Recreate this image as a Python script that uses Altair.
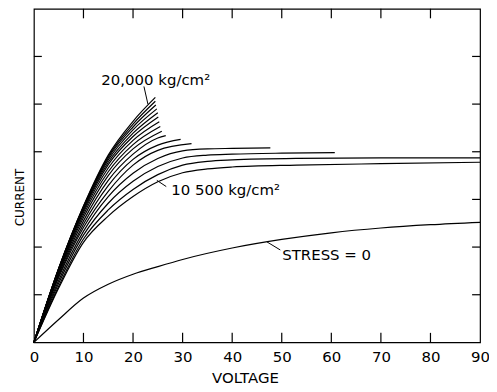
import altair as alt
import pandas as pd

# ---- data (voltage V, current I in tick units) ----
STRESS_V = [
    [0, 5, 10, 15, 20, 24.5],
    [0, 5, 10, 15, 20, 24.5],
    [0, 5, 10, 15, 20, 24.6],
    [0, 5, 10, 15, 20, 24.8],
    [0, 5, 10, 15, 20, 25.0],
    [0, 5, 10, 15, 20, 25.1],
    [0, 5, 10, 15, 20, 25.3],
    [0, 5, 10, 15, 20, 25.5],
    [0, 5, 10, 15, 20, 25.8],
    [0, 5, 10, 15, 20, 25, 26.6],
    [0, 5, 10, 15, 20, 25, 29.6],
    [0, 5, 10, 15, 20, 25, 31.8],
    [0, 5, 10, 15, 20, 25, 30, 35, 40, 47.7],
    [0, 5, 10, 15, 20, 25, 30, 35, 40, 50, 60.7],
    [0, 5, 10, 15, 20, 25, 30, 35, 40, 53, 70, 90],
    [0, 5, 10, 15, 20, 25, 30, 35, 40, 53, 70, 90],
]
STRESS_I = [
    [0, 1.55, 2.86, 3.93, 4.64, 5.14],
    [0, 1.55, 2.85, 3.90, 4.58, 5.06],
    [0, 1.55, 2.84, 3.87, 4.52, 4.98],
    [0, 1.54, 2.82, 3.83, 4.46, 4.90],
    [0, 1.53, 2.80, 3.78, 4.39, 4.82],
    [0, 1.52, 2.77, 3.73, 4.32, 4.73],
    [0, 1.50, 2.73, 3.66, 4.24, 4.63],
    [0, 1.48, 2.68, 3.58, 4.15, 4.53],
    [0, 1.46, 2.62, 3.50, 4.06, 4.43],
    [0, 1.43, 2.55, 3.40, 3.95, 4.29, 4.34],
    [0, 1.40, 2.48, 3.29, 3.84, 4.14, 4.26],
    [0, 1.36, 2.41, 3.17, 3.72, 4.03, 4.17],
    [0, 1.30, 2.33, 3.06, 3.55, 3.86, 4.02, 4.06, 4.07, 4.08],
    [0, 1.24, 2.25, 2.92, 3.38, 3.69, 3.87, 3.93, 3.95, 3.97, 3.98],
    [0, 1.18, 2.17, 2.78, 3.21, 3.52, 3.72, 3.80, 3.83, 3.86, 3.87, 3.87],
    [0, 1.14, 2.10, 2.65, 3.06, 3.37, 3.56, 3.64, 3.68, 3.72, 3.75, 3.78],
]
ZERO_V = [0, 5, 10, 15, 20, 25, 30, 40, 50, 60, 70, 80, 90]
ZERO_I = [0, 0.48, 0.93, 1.22, 1.43, 1.59, 1.74, 1.98, 2.16, 2.30, 2.40, 2.47, 2.52]

X_TICKS = [0, 10, 20, 30, 40, 50, 60, 70, 80, 90]
Y_TICKS = [1, 2, 3, 4, 5, 6]

LABEL_TEXT = ["20,000 kg/cm²", "10 500 kg/cm²", "STRESS = 0"]
LABEL_V = [13.6, 27.7, 50.1]
LABEL_I = [5.41, 3.10, 1.73]
LEADER_V = [22.2, 26.7, 49.7]
LEADER_I = [5.37, 3.27, 1.94]
LEADER_V2 = [23.0, 24.8, 47.0]
LEADER_I2 = [5.00, 3.40, 2.11]

# ---- tables ----
rows = []
for k, (vs, cs) in enumerate(zip(STRESS_V, STRESS_I)):
    for j, (v, c) in enumerate(zip(vs, cs)):
        rows.append({"curve": f"s{k}", "order": j, "V": v, "I": c})
for j, (v, c) in enumerate(zip(ZERO_V, ZERO_I)):
    rows.append({"curve": "zero", "order": j, "V": v, "I": c})
curves = pd.DataFrame(rows)

labels = pd.DataFrame({"text": LABEL_TEXT, "V": LABEL_V, "I": LABEL_I})
leaders = pd.DataFrame({"V": LEADER_V, "I": LEADER_I, "V2": LEADER_V2, "I2": LEADER_I2})

XMAX, YMAX = 90, 7
xt = [t for t in X_TICKS if 0 < t < XMAX]
ticks = pd.DataFrame(
    [{"V": t, "V2": t, "I": 0, "I2": 0.2} for t in xt]
    + [{"V": t, "V2": t, "I": YMAX - 0.2, "I2": YMAX} for t in xt]
    + [{"V": 0, "V2": 1.6, "I": t, "I2": t} for t in Y_TICKS]
    + [{"V": XMAX - 1.6, "V2": XMAX, "I": t, "I2": t} for t in Y_TICKS]
)

xs = alt.Scale(domain=[0, XMAX], nice=False, zero=False)
ys = alt.Scale(domain=[0, YMAX], nice=False, zero=False)
FONT = "DejaVu Sans"

lines = alt.Chart(curves).mark_line(
    color="black", strokeWidth=1.2, interpolate="monotone"
).encode(
    x=alt.X("V:Q", scale=xs, axis=alt.Axis(
        values=X_TICKS, title="VOLTAGE", ticks=False, tickSize=0, domain=False,
        grid=False, labelPadding=7, labelFont=FONT, labelFontSize=15,
        labelColor="black", titleFont=FONT, titleFontSize=15, titleFontWeight="normal",
        titleColor="black", titleX=212, titleY=40, titleBaseline="alphabetic",
        labelFlush=False)),
    y=alt.Y("I:Q", scale=ys, axis=alt.Axis(
        title="CURRENT", labels=False, ticks=False, tickSize=0, domain=False,
        grid=False, titleFont=FONT, titleFontSize=12, titleFontWeight="normal",
        titleColor="black", titlePadding=7, titleY=189)),
    detail="curve:N",
    order="order:Q",
)

tick_layer = alt.Chart(ticks).mark_rule(color="black", strokeWidth=1.2).encode(
    x=alt.X("V:Q", scale=xs), x2="V2:Q",
    y=alt.Y("I:Q", scale=ys), y2="I2:Q",
)

leader_layer = alt.Chart(leaders).mark_rule(color="black", strokeWidth=1).encode(
    x=alt.X("V:Q", scale=xs), x2="V2:Q",
    y=alt.Y("I:Q", scale=ys), y2="I2:Q",
)

text_layer = alt.Chart(labels).mark_text(
    align="left", baseline="alphabetic", font=FONT, fontSize=15, color="black"
).encode(
    x=alt.X("V:Q", scale=xs), y=alt.Y("I:Q", scale=ys), text="text:N"
)

chart = alt.layer(lines, tick_layer, leader_layer, text_layer).properties(
    width=448, height=335,
    autosize=alt.AutoSizeParams(type="none"),
    padding={"left": 26, "top": 0, "right": 9, "bottom": 44},
    background="white",
).configure_view(stroke="black", strokeWidth=1.2)

chart.save("out.html", embed_options={"renderer": "svg", "actions": False})
